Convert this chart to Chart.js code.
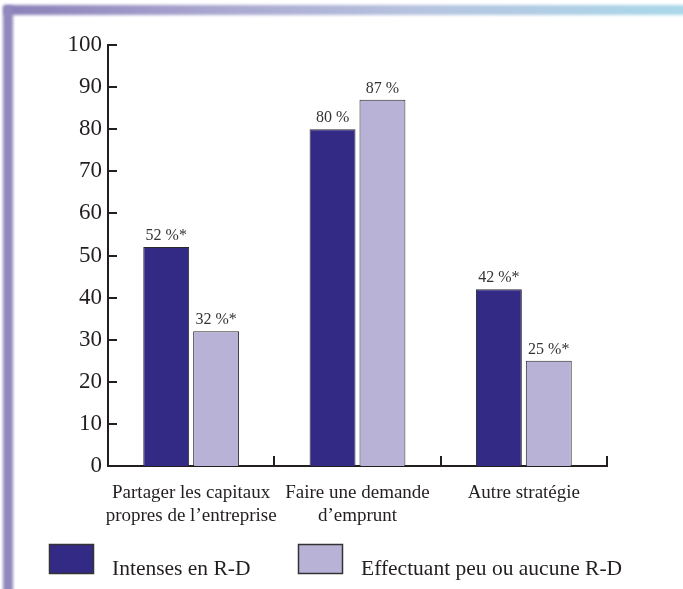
<!DOCTYPE html>
<html>
<head>
<meta charset="utf-8">
<script src="https://cdn.jsdelivr.net/npm/chart.js@4/dist/chart.umd.min.js"></script>
<style>
    html, body { margin: 0; padding: 0; background: #fff; }
    #wrap { position: relative; width: 683px; height: 589px; overflow: hidden; }
    .band-top {
        position: absolute; left: 4px; top: 5px; width: 690px; height: 10px;
        background: linear-gradient(to right, #8a80b8 0%, #a9a6cf 30%, #b6c3df 60%, #a9d9ea 100%);
        filter: blur(1.5px);
    }
    .band-left {
        position: absolute; left: 3px; top: 6px; width: 10px; height: 600px;
        background: #9188bd;
        filter: blur(1.5px);
    }
    #chart { position: absolute; left: 0; top: 0; }
</style>
</head>
<body>
<div id="wrap">
    <div class="band-top"></div>
    <div class="band-left"></div>
    <canvas id="chart" width="683" height="589"></canvas>
</div>
<script>
const categories = [
    ['Partager les capitaux', 'propres de l\u2019entreprise'],
    ['Faire une demande', 'd\u2019emprunt'],
    ['Autre strat\u00e9gie']
];
const intensiveValues = [52, 80, 42];
const intensiveNotes = ['*', '', '*'];
const lowValues = [32, 87, 25];
const lowNotes = ['*', '', '*'];
const seriesNames = ['Intenses en R-D', 'Effectuant peu ou aucune R-D'];
const yTicks = [0, 10, 20, 30, 40, 50, 60, 70, 80, 90, 100];

const SERIF = '"Liberation Serif", "Times New Roman", serif';
const INK = '#231f20';

// short ticks pointing into the plot, plus the category separators
const innerTicks = {
    id: 'innerTicks',
    afterDraw(chart) {
        const ctx = chart.ctx;
        const x = chart.scales.x;
        const y = chart.scales.y;
        const area = chart.chartArea;
        ctx.save();
        ctx.strokeStyle = INK;
        ctx.lineWidth = 2;
        ctx.beginPath();
        yTicks.forEach(v => {
            const py = Math.round(y.getPixelForValue(v));
            ctx.moveTo(area.left, py);
            ctx.lineTo(area.left + 9, py);
        });
        for (let i = 0; i < categories.length; i++) {
            const px = i < categories.length - 1
                ? (x.getPixelForValue(i) + x.getPixelForValue(i + 1)) / 2
                : area.right;
            ctx.moveTo(Math.round(px), area.bottom);
            ctx.lineTo(Math.round(px), area.bottom - 10);
        }
        ctx.stroke();
        ctx.restore();
    }
};

// value labels over each bar
const barLabels = {
    id: 'barLabels',
    afterDatasetsDraw(chart) {
        const ctx = chart.ctx;
        ctx.save();
        ctx.font = '16px ' + SERIF;
        ctx.fillStyle = '#333';
        ctx.textAlign = 'center';
        ctx.textBaseline = 'alphabetic';
        chart.data.datasets.forEach((ds, di) => {
            chart.getDatasetMeta(di).data.forEach((bar, i) => {
                ctx.fillText(ds.data[i] + ' %' + ds.notes[i], bar.x, bar.y - 7);
            });
        });
        ctx.restore();
    }
};

// legend row under the axis
const legendRow = {
    id: 'legendRow',
    afterDraw(chart) {
        const ctx = chart.ctx;
        const starts = [49, 298];
        const top = 544;
        ctx.save();
        chart.data.datasets.forEach((ds, i) => {
            ctx.fillStyle = ds.backgroundColor;
            ctx.fillRect(starts[i], top, 45, 30);
            ctx.strokeStyle = '#333';
            ctx.lineWidth = 1.5;
            ctx.strokeRect(starts[i] + 0.5, top + 0.5, 44, 29);
            ctx.fillStyle = INK;
            ctx.font = '21.5px ' + SERIF;
            ctx.textBaseline = 'alphabetic';
            ctx.fillText(ds.label, starts[i] + 63, top + 31);
        });
        ctx.restore();
    }
};

new Chart(document.getElementById('chart'), {
    type: 'bar',
    data: {
        labels: categories,
        datasets: [{
            label: seriesNames[0],
            data: intensiveValues,
            notes: intensiveNotes,
            backgroundColor: '#332a85',
            borderColor: '#2a2a2a',
            borderWidth: 1
        }, {
            label: seriesNames[1],
            data: lowValues,
            notes: lowNotes,
            backgroundColor: '#b8b3d6',
            borderColor: '#2a2a2a',
            borderWidth: 1
        }]
    },
    options: {
        responsive: false,
        animation: false,
        categoryPercentage: 0.6,
        barPercentage: 0.92,
        layout: { padding: { top: 45, right: 76, left: 0, bottom: 0 } },
        scales: {
            x: {
                grid: { display: false, drawTicks: false },
                border: { color: INK, width: 2 },
                ticks: {
                    font: { family: SERIF, size: 19, lineHeight: 1.2 },
                    color: INK,
                    padding: 16,
                    maxRotation: 0,
                    autoSkip: false
                },
                afterFit(s) { s.height = 123; }
            },
            y: {
                min: 0,
                max: 100,
                grid: { display: false, drawTicks: false },
                border: { color: INK, width: 2 },
                afterBuildTicks(s) { s.ticks = yTicks.map(v => ({ value: v })); },
                ticks: {
                    font: { family: SERIF, size: 23 },
                    color: INK,
                    padding: 6
                },
                afterFit(s) { s.width = 108; }
            }
        },
        plugins: {
            legend: { display: false },
            tooltip: { enabled: false }
        }
    },
    plugins: [innerTicks, barLabels, legendRow]
});
</script>
</body>
</html>
